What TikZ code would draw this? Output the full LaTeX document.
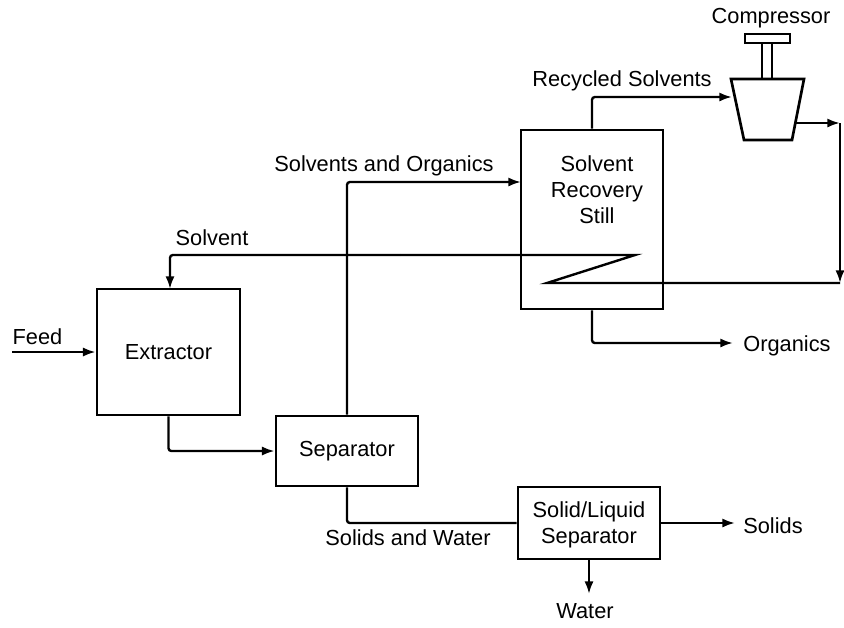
\documentclass[tikz,border=0pt]{standalone}
\usepackage{fontspec}
\setmainfont{Liberation Sans}
\usetikzlibrary{arrows.meta}
\tikzstyle{block} = [draw, line width=1.9pt, rectangle, align=center, inner sep=0pt, font=\fontsize{15.5}{18.5}\selectfont]
\tikzstyle{flow} = [draw, line width=1.7pt, rounded corners=2pt]
\tikzstyle{tag} = [inner sep=0pt, font=\fontsize{15.5}{18.5}\selectfont, align=center]

\begin{document}
\begin{tikzpicture}[x=0.025cm, y=-0.025cm, >={Latex[length=9pt,width=6.5pt]}]
    \useasboundingbox (0,0) rectangle (844,627);
    \node [block, minimum width=3.575cm, minimum height=3.15cm] (extractor) at (168.5,352) {Extractor};
    \node [block, minimum width=3.55cm, minimum height=1.75cm] (separator) at (347,451) {Separator};
    \node [block, minimum width=3.55cm, minimum height=1.8cm] (solidliquid) at (589,523) {};
    \node [tag] at (589,525) (solidliquidtext) {Solid/Liquid\\Separator};
    \node [block, minimum width=3.55cm, minimum height=4.475cm] (still) at (592,219.5) {};
    \node [tag] at (597,190) (stilltext) {Solvent\\Recovery\\Still};
    \node [block, minimum width=0.25cm, minimum height=0.9cm] (shaft) at (767,61) {};
    \node [block, minimum width=1.125cm, minimum height=0.225cm] (cap) at (767.5,38.5) {};
    \draw [line width=1.9pt] (731,79) -- (804,79) -- (792,140) -- (744,140) -- cycle;

    \coordinate (feedin) at (12,352);
    \coordinate (solidsout) at (735,523);
    \coordinate (waterout) at (589,594);
    \coordinate (organicsout) at (733,343);
    \coordinate (compin) at (732,97);
    \coordinate (compout) at (795,123);
    \coordinate (compcorner) at (840,123);
    \coordinate (coilin) at (840,283);
    \coordinate (coilleft) at (547,283);
    \coordinate (coilright) at (635,255);
    \coordinate (solventbend) at (400,255);
    \coordinate (extractorin) at (170,289);
    \coordinate (stillin) at (521,182);

    \node [tag] (compressortext) at (771,18) {Compressor};
    \node [tag] (recycledtext) at (622,81) {Recycled Solvents};
    \node [tag] (solventorganicstext) at (384,166) {Solvents and Organics};
    \node [tag] (solventtext) at (212,238) {Solvent};
    \node [tag] (feedtext) at (37.5,337) {Feed};
    \node [tag] (organicstext) at (787,346) {Organics};
    \node [tag] (solidswatertext) at (408,538) {Solids and Water};
    \node [tag] (solidstext) at (773,526) {Solids};
    \node [tag] (watertext) at (585,611) {Water};

    \draw [flow,->] (feedin) -- (extractor.west);
    \draw [flow,->] (extractor.south) |- (separator.west);
    \draw [flow,->] (separator.north) |- (stillin);
    \draw [flow] (separator.south) |- (solidliquid.west);
    \draw [flow,->] (solidliquid.east) -- (solidsout);
    \draw [flow,->] (solidliquid.south) -- (waterout);
    \draw [flow,->] (still.south) |- (organicsout);
    \draw [flow,->] (still.north) |- (compin);
    \draw [flow,->] (compout) -- (compcorner);
    \draw [flow,->] (compcorner) -- (coilin);
    \draw [flow,rounded corners=0pt] (coilin) -- (coilleft) -- (coilright) -- (solventbend);
    \draw [flow,->] (solventbend) -| (extractorin);
\end{tikzpicture}
\end{document}
